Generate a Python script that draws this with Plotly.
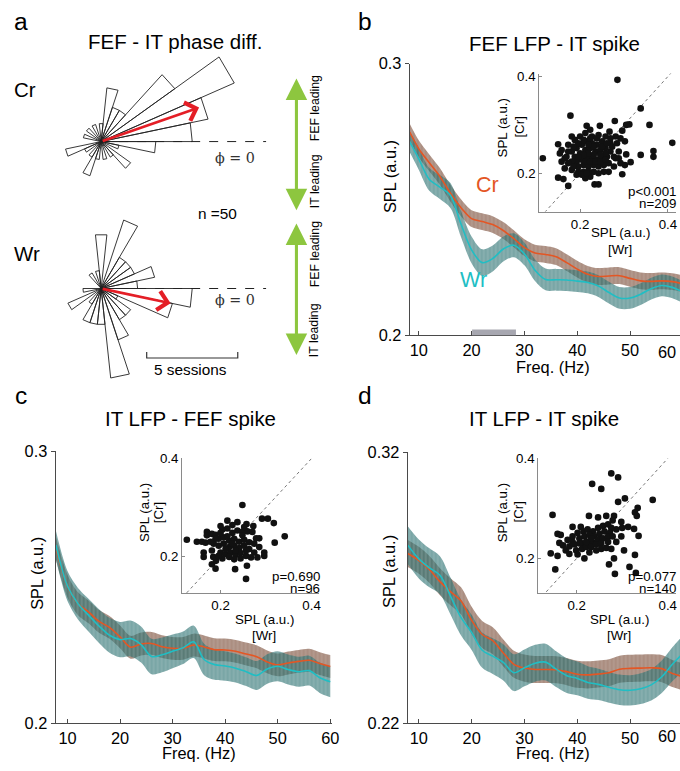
import numpy as np
import plotly.graph_objects as go

# The photographed area is about 696x774 page pixels, shown scaled into the
# 680x771 picture.  The figure fills that area (body margin removed) and
# every placement below is given in picture pixels, then mapped to paper.
S = 680 / 696
LB = (771 - 774 * S) / 2
FIGW, FIGH = 694, 772
FONT = "Liberation Sans, Arial, Helvetica, sans-serif"
SERIF = "DejaVu Serif, Liberation Serif, serif"

# ---------------- Panel a : phase-difference rose histograms ----------------
rose_bin_deg = 12
cr_rose_counts = [5, 6, 8, 5, 2, 2, 3, 1, 0, 1, 0, 1, 0, 1, 0,
                  0, 2, 1, 0, 1, 2, 1, 0, 1, 0, 1, 2, 0, 1, 3]
wr_rose_counts = [2, 3, 2, 2, 2, 4, 0, 3, 1, 0, 1, 0, 0, 0, 0,
                  1, 0, 2, 0, 1, 2, 2, 2, 5, 3, 2, 2, 1, 4, 5]
cr_mean_angle_deg, cr_mean_len = 19.4, 5.7
wr_mean_angle_deg, wr_mean_len = -12.1, 3.9
n_sessions = 50
scale_bar_sessions = 5

# ---------------- Panel b : FEF LFP - IT spike ----------------
b_freq = [8.3, 10, 12, 14, 16, 18, 20, 22, 24, 26, 28, 30, 32, 34, 36, 38, 40,
          42, 44, 46, 48, 50, 52, 54, 56, 58, 60]
b_cr = [0.2748, 0.2687, 0.2635, 0.2585, 0.2523, 0.2470, 0.2430, 0.2419, 0.2408,
        0.2386, 0.2356, 0.2323, 0.2303, 0.2298, 0.2290, 0.2268, 0.2244, 0.2225,
        0.2217, 0.2219, 0.2220, 0.2210, 0.2201, 0.2199, 0.2201, 0.2198, 0.2190]
b_wr = [0.2712, 0.2650, 0.2574, 0.2546, 0.2515, 0.2410, 0.2315, 0.2268, 0.2283,
        0.2318, 0.2332, 0.2300, 0.2240, 0.2206, 0.2205, 0.2204, 0.2200, 0.2195,
        0.2182, 0.2158, 0.2138, 0.2138, 0.2152, 0.2172, 0.2184, 0.2177, 0.2160]
b_cr_sem = [0.0031] * len(b_freq)
b_wr_sem = [0.0038, 0.0040, 0.0042, 0.0044, 0.0046, 0.0048, 0.0049, 0.0049, 0.0048,
            0.0046, 0.0044, 0.0042, 0.0040, 0.0040, 0.0040, 0.0040, 0.0040, 0.0040,
            0.0040, 0.0040, 0.0040, 0.0040, 0.0040, 0.0040, 0.0040, 0.0040, 0.0040]
b_sig_window = [20.1, 28.4]
b_inset_points = [
    (0.285, 0.393), (0.178, 0.319), (0.338, 0.334), (0.358, 0.300), (0.410, 0.263),
    (0.367, 0.246), (0.367, 0.234), (0.338, 0.238), (0.315, 0.223), (0.115, 0.231),
    (0.173, 0.174), (0.150, 0.191), (0.162, 0.188), (0.233, 0.177), (0.242, 0.177),
    (0.296, 0.198), (0.302, 0.217), (0.305, 0.239), (0.302, 0.266), (0.312, 0.301),
    (0.279, 0.308), (0.245, 0.298), (0.215, 0.298), (0.223, 0.290), (0.181, 0.276),
    (0.150, 0.260), (0.154, 0.241), (0.305, 0.300), (0.296, 0.288), (0.267, 0.286),
    (0.258, 0.276), (0.269, 0.262), (0.288, 0.245), (0.292, 0.221), (0.281, 0.231),
    (0.265, 0.203), (0.223, 0.193), (0.212, 0.190), (0.196, 0.203), (0.181, 0.207),
    (0.165, 0.210), (0.158, 0.224), (0.169, 0.234), (0.158, 0.248), (0.173, 0.259),
    (0.188, 0.269), (0.200, 0.276), (0.212, 0.283), (0.227, 0.276), (0.242, 0.279),
    (0.250, 0.266), (0.238, 0.259), (0.227, 0.262), (0.215, 0.266), (0.204, 0.259),
    (0.192, 0.252), (0.181, 0.245), (0.188, 0.234), (0.200, 0.241), (0.212, 0.248),
    (0.223, 0.252), (0.235, 0.245), (0.246, 0.248), (0.258, 0.252), (0.269, 0.245),
    (0.261, 0.234), (0.250, 0.231), (0.238, 0.228), (0.227, 0.231), (0.215, 0.234),
    (0.204, 0.228), (0.192, 0.224), (0.181, 0.224), (0.196, 0.214), (0.208, 0.217),
    (0.219, 0.214), (0.231, 0.217), (0.242, 0.214), (0.254, 0.217), (0.265, 0.221),
    (0.277, 0.214), (0.254, 0.203), (0.242, 0.200), (0.231, 0.203), (0.219, 0.203),
    (0.208, 0.203), (0.273, 0.255), (0.284, 0.262), (0.292, 0.272), (0.281, 0.276),
    (0.269, 0.272), (0.238, 0.272), (0.223, 0.272), (0.208, 0.269), (0.196, 0.262),
    (0.185, 0.255), (0.173, 0.245), (0.165, 0.231), (0.173, 0.221), (0.185, 0.214),
    (0.192, 0.197), (0.204, 0.197), (0.215, 0.200), (0.277, 0.234), (0.288, 0.231),
    (0.258, 0.241), (0.246, 0.238), (0.231, 0.238), (0.219, 0.241), (0.208, 0.238),
    (0.196, 0.234), (0.212, 0.224), (0.223, 0.224), (0.235, 0.224), (0.246, 0.224),
    (0.258, 0.228), (0.231, 0.255), (0.219, 0.259), (0.250, 0.255), (0.261, 0.262)]
b_stats = ["p<0.001", "n=209"]

# ---------------- Panel c : IT LFP - FEF spike ----------------
c_freq = [7.8, 10, 12, 14, 16, 18, 20, 22, 24, 26, 28, 30, 32, 34, 36, 38, 40,
          42, 44, 46, 48, 50, 52, 54, 56, 58, 60]
c_cr = [0.2644, 0.2505, 0.2440, 0.2410, 0.2375, 0.2353, 0.2318, 0.2280, 0.2292,
        0.2294, 0.2282, 0.2276, 0.2276, 0.2288, 0.2281, 0.2271, 0.2270, 0.2265,
        0.2255, 0.2245, 0.2226, 0.2215, 0.2222, 0.2228, 0.2232, 0.2220, 0.2209]
c_wr = [0.2656, 0.2505, 0.2440, 0.2398, 0.2358, 0.2324, 0.2308, 0.2312, 0.2290,
        0.2246, 0.2252, 0.2265, 0.2278, 0.2300, 0.2235, 0.2216, 0.2211, 0.2203,
        0.2190, 0.2176, 0.2200, 0.2210, 0.2198, 0.2190, 0.2194, 0.2168, 0.2153]
c_cr_sem = [0.0042] * len(c_freq)
c_wr_sem = [0.0052, 0.0055, 0.0058, 0.0060, 0.0062, 0.0064, 0.0065, 0.0066, 0.0066,
            0.0065, 0.0064, 0.0062, 0.0060, 0.0060, 0.0058, 0.0056, 0.0054, 0.0053,
            0.0053, 0.0053, 0.0054, 0.0055, 0.0055, 0.0055, 0.0055, 0.0056, 0.0057]
c_inset_points = [
    (0.248, 0.305), (0.291, 0.277), (0.304, 0.277), (0.317, 0.268), (0.341, 0.241),
    (0.319, 0.228), (0.126, 0.234), (0.148, 0.230), (0.159, 0.230), (0.167, 0.228),
    (0.163, 0.208), (0.163, 0.199), (0.181, 0.184), (0.189, 0.175), (0.184, 0.199),
    (0.190, 0.191), (0.232, 0.174), (0.258, 0.181), (0.256, 0.154), (0.296, 0.201),
    (0.296, 0.208), (0.285, 0.219), (0.285, 0.237), (0.272, 0.262), (0.257, 0.266),
    (0.237, 0.270), (0.215, 0.273), (0.200, 0.262), (0.170, 0.250), (0.170, 0.243),
    (0.181, 0.246), (0.189, 0.244), (0.204, 0.255), (0.215, 0.257), (0.226, 0.248),
    (0.237, 0.253), (0.248, 0.250), (0.259, 0.251), (0.270, 0.250), (0.196, 0.236),
    (0.207, 0.239), (0.219, 0.232), (0.230, 0.236), (0.241, 0.230), (0.252, 0.234),
    (0.263, 0.229), (0.274, 0.226), (0.196, 0.222), (0.207, 0.226), (0.219, 0.219),
    (0.230, 0.222), (0.241, 0.217), (0.252, 0.222), (0.263, 0.215), (0.274, 0.208),
    (0.200, 0.208), (0.211, 0.205), (0.222, 0.208), (0.233, 0.203), (0.244, 0.207),
    (0.256, 0.201), (0.267, 0.198), (0.204, 0.196), (0.219, 0.199), (0.230, 0.194),
    (0.244, 0.196), (0.185, 0.226), (0.181, 0.212), (0.189, 0.236), (0.215, 0.241),
    (0.248, 0.243), (0.226, 0.264), (0.252, 0.260), (0.278, 0.237), (0.211, 0.215),
    (0.233, 0.212), (0.226, 0.226), (0.256, 0.212), (0.200, 0.248), (0.178, 0.230),
    (0.281, 0.198), (0.196, 0.201)]
c_stats = ["p=0.690", "n=96"]

# ---------------- Panel d : IT LFP - IT spike ----------------
d_freq = [7.9, 10, 12, 14, 16, 18, 20, 22, 24, 26, 28, 30, 32, 34, 36, 38, 40,
          42, 44, 46, 48, 50, 52, 54, 56, 58, 60]
d_cr = [0.2827, 0.2802, 0.2768, 0.2723, 0.2686, 0.2652, 0.2580, 0.2528, 0.2505,
        0.2460, 0.2418, 0.2404, 0.2399, 0.2399, 0.2398, 0.2391, 0.2381, 0.2379,
        0.2382, 0.2387, 0.2400, 0.2403, 0.2404, 0.2405, 0.2402, 0.2384, 0.2372]
d_wr = [0.2858, 0.2807, 0.2774, 0.2747, 0.2670, 0.2590, 0.2536, 0.2470, 0.2448,
        0.2425, 0.2387, 0.2405, 0.2422, 0.2426, 0.2400, 0.2376, 0.2366, 0.2351,
        0.2344, 0.2333, 0.2324, 0.2322, 0.2328, 0.2342, 0.2372, 0.2418, 0.2458]
d_cr_sem = [0.0050] * len(d_freq)
d_wr_sem = [0.0070, 0.0072, 0.0072, 0.0070, 0.0068, 0.0066, 0.0065, 0.0065, 0.0066,
            0.0067, 0.0068, 0.0068, 0.0068, 0.0068, 0.0066, 0.0064, 0.0062, 0.0060,
            0.0058, 0.0057, 0.0056, 0.0056, 0.0057, 0.0058, 0.0060, 0.0063, 0.0066]
d_inset_points = [
    (0.276, 0.370), (0.291, 0.362), (0.234, 0.349), (0.254, 0.339), (0.367, 0.317),
    (0.306, 0.320), (0.291, 0.313), (0.334, 0.301), (0.328, 0.292), (0.332, 0.285),
    (0.147, 0.287), (0.336, 0.245), (0.326, 0.259), (0.313, 0.263), (0.328, 0.207),
    (0.304, 0.216), (0.282, 0.200), (0.271, 0.188), (0.284, 0.169), (0.316, 0.183),
    (0.330, 0.171), (0.153, 0.178), (0.143, 0.210), (0.158, 0.205), (0.217, 0.200),
    (0.202, 0.208), (0.158, 0.249), (0.165, 0.247), (0.162, 0.231), (0.170, 0.226),
    (0.176, 0.216), (0.184, 0.224), (0.191, 0.233), (0.191, 0.263), (0.209, 0.263),
    (0.227, 0.285), (0.247, 0.282), (0.265, 0.285), (0.282, 0.285), (0.279, 0.276),
    (0.298, 0.273), (0.300, 0.261), (0.287, 0.258), (0.202, 0.251), (0.215, 0.254),
    (0.224, 0.258), (0.236, 0.254), (0.247, 0.261), (0.258, 0.265), (0.269, 0.268),
    (0.276, 0.261), (0.206, 0.240), (0.217, 0.244), (0.228, 0.247), (0.239, 0.244),
    (0.250, 0.249), (0.261, 0.254), (0.273, 0.251), (0.191, 0.244), (0.180, 0.237),
    (0.195, 0.228), (0.213, 0.230), (0.224, 0.233), (0.236, 0.231), (0.247, 0.237),
    (0.258, 0.240), (0.269, 0.244), (0.279, 0.244), (0.212, 0.219), (0.221, 0.223),
    (0.232, 0.223), (0.243, 0.228), (0.254, 0.230), (0.254, 0.219), (0.243, 0.216),
    (0.228, 0.212), (0.184, 0.209), (0.199, 0.216), (0.269, 0.233), (0.287, 0.233),
    (0.221, 0.233), (0.206, 0.230), (0.232, 0.240), (0.298, 0.244), (0.265, 0.221),
    (0.276, 0.219)]
d_stats = ["p=0.077", "n=140"]

freq_ticks = [10, 20, 30, 40, 50, 60]
freq_labels = ["10", "20", "30", "40", "50", "60"]

# ---------------- styling ----------------
CR_LINE = "rgb(228,86,36)"
WR_LINE = "rgb(32,190,196)"
CR_FILL = "rgba(120,72,52,0.62)"
WR_FILL = "rgba(40,112,112,0.62)"
GREEN = "#8DC63F"


def F(v):
    """picture size -> page size"""
    return v / S


def px(x):
    return (x / S) / FIGW


def py(y):
    return 1 - ((y - LB) / S) / FIGH


fig = go.Figure()

# ---- panel a: rose petals on an equal-scale cartesian axis (1 session = 18 px)
CR_CY, WR_CY = 0.0, -147 / 18


def rose_xy(counts, cy):
    xs, ys = [], []
    for i, c in enumerate(counts):
        if c <= 0:
            continue
        t1 = np.deg2rad(i * rose_bin_deg)
        t2 = np.deg2rad((i + 1) * rose_bin_deg)
        xs += [0, c * np.cos(t1), c * np.cos(t2), 0, None]
        ys += [cy, cy + c * np.sin(t1), cy + c * np.sin(t2), cy, None]
    return xs, ys


for counts, cy in [(cr_rose_counts, CR_CY), (wr_rose_counts, WR_CY)]:
    xs, ys = rose_xy(counts, cy)
    fig.add_trace(go.Scatter(x=xs, y=ys, mode="lines", xaxis="x", yaxis="y",
                             line=dict(color="#222222", width=0.9),
                             showlegend=False, hoverinfo="skip"))


# ---- line panels with SEM bands
def add_panel(freq, cr, cr_sem, wr, wr_sem, xa, ya):
    for y, sem, fill in [(cr, cr_sem, CR_FILL), (wr, wr_sem, WR_FILL)]:
        lo = [a - s for a, s in zip(y, sem)]
        hi = [a + s for a, s in zip(y, sem)]
        fig.add_trace(go.Scatter(x=freq, y=lo, xaxis=xa, yaxis=ya, mode="lines",
                                 line=dict(width=0, shape="spline", smoothing=0.9),
                                 showlegend=False, hoverinfo="skip"))
        fig.add_trace(go.Scatter(x=freq, y=hi, xaxis=xa, yaxis=ya, mode="lines",
                                 line=dict(width=0, shape="spline", smoothing=0.9),
                                 fill="tonexty", fillcolor=fill,
                                 fillpattern=dict(shape="|", size=4, solidity=0.2,
                                                  bgcolor=fill,
                                                  fgcolor="rgba(255,255,255,0.45)"),
                                 showlegend=False, hoverinfo="skip"))
    for y, col in [(cr, CR_LINE), (wr, WR_LINE)]:
        fig.add_trace(go.Scatter(x=freq, y=y, xaxis=xa, yaxis=ya, mode="lines",
                                 line=dict(color=col, width=1.6, shape="spline", smoothing=0.9),
                                 showlegend=False, hoverinfo="skip"))


add_panel(b_freq, b_cr, b_cr_sem, b_wr, b_wr_sem, "x2", "y2")
add_panel(c_freq, c_cr, c_cr_sem, c_wr, c_wr_sem, "x4", "y4")
add_panel(d_freq, d_cr, d_cr_sem, d_wr, d_wr_sem, "x6", "y6")


def add_inset(points, xa, ya):
    fig.add_trace(go.Scatter(x=[0, 0.5], y=[0, 0.5], xaxis=xa, yaxis=ya, mode="lines",
                             line=dict(color="#777777", width=1, dash="dot"),
                             showlegend=False, hoverinfo="skip"))
    fig.add_trace(go.Scatter(x=[p[0] for p in points], y=[p[1] for p in points],
                             xaxis=xa, yaxis=ya, mode="markers",
                             marker=dict(color="#111111", size=F(6.5), line=dict(width=0)),
                             showlegend=False, hoverinfo="skip"))


add_inset(b_inset_points, "x3", "y3")
add_inset(c_inset_points, "x5", "y5")
add_inset(d_inset_points, "x7", "y7")

# ---------------- axes ----------------
axis_base = dict(showline=True, linewidth=1, tickwidth=1, showgrid=False, zeroline=False)
main_x = dict(axis_base, linecolor="#4a4a4a", tickcolor="#4a4a4a", ticks="inside", ticklen=4,
              tickfont=dict(size=F(16), color="black", family=FONT))
main_y = dict(axis_base, linecolor="#4a4a4a", tickcolor="#4a4a4a", ticks="outside", ticklen=4,
              tickfont=dict(size=F(16), color="black", family=FONT))
inset_ax = dict(axis_base, linecolor="#8a8a8a", tickcolor="#8a8a8a", ticks="inside", ticklen=3,
                tickfont=dict(size=F(13), color="black", family=FONT))
# the last "60" label of b and d sits on the picture edge; it is drawn as a right-aligned note
edge_labels = freq_labels[:-1] + [""]

fig.update_layout(
    width=FIGW, height=FIGH, autosize=False,
    margin=dict(l=0, r=0, t=0, b=0),
    paper_bgcolor="white", plot_bgcolor="rgba(0,0,0,0)",
    showlegend=False,
    xaxis=dict(domain=[px(0), px(300)], range=[-100 / 18, 200 / 18], visible=False, anchor="y"),
    yaxis=dict(domain=[py(380), py(40)], range=[-240 / 18, 100 / 18], visible=False, anchor="x"),
    xaxis2=dict(main_x, domain=[px(405), px(675)], range=[8.3, 60], tickvals=freq_ticks,
                ticktext=edge_labels, anchor="y2"),
    yaxis2=dict(main_y, domain=[py(334), py(62)], range=[0.2, 0.3], tickvals=[0.2, 0.3],
                ticktext=["0.2", "0.3"], anchor="x2"),
    xaxis3=dict(inset_ax, domain=[px(533), px(668)], range=[0.107, 0.418], tickvals=[0.2, 0.4],
                ticktext=["0.2", "0.4"], anchor="y3"),
    yaxis3=dict(inset_ax, domain=[py(210), py(72)], range=[0.121, 0.406], tickvals=[0.2, 0.4],
                ticktext=["0.2", "0.4"], anchor="x3"),
    xaxis4=dict(main_x, domain=[px(55), px(328)], range=[7.75, 60.3], tickvals=freq_ticks,
                ticktext=freq_labels, anchor="y4"),
    yaxis4=dict(main_y, domain=[py(722), py(450)], range=[0.2, 0.3], tickvals=[0.2, 0.3],
                ticktext=["0.2", "0.3"], anchor="x4"),
    xaxis5=dict(inset_ax, domain=[px(180), px(315)], range=[0.1156, 0.4156], tickvals=[0.2, 0.4],
                ticktext=["0.2", "0.4"], anchor="y5"),
    yaxis5=dict(inset_ax, domain=[py(592), py(457)], range=[0.1245, 0.4], tickvals=[0.2, 0.4],
                ticktext=["0.2", "0.4"], anchor="x5"),
    xaxis6=dict(main_x, domain=[px(403), px(675)], range=[7.9, 60], tickvals=freq_ticks,
                ticktext=edge_labels, anchor="y6"),
    yaxis6=dict(main_y, domain=[py(722), py(451)], range=[0.22, 0.32], tickvals=[0.22, 0.32],
                ticktext=["0.22", "0.32"], anchor="x6"),
    xaxis7=dict(inset_ax, domain=[px(532), px(668)], range=[0.1156, 0.4178], tickvals=[0.2, 0.4],
                ticktext=["0.2", "0.4"], anchor="y7"),
    yaxis7=dict(inset_ax, domain=[py(592), py(457)], range=[0.13, 0.4], tickvals=[0.2, 0.4],
                ticktext=["0.2", "0.4"], anchor="x7"),
)

# ---------------- shapes ----------------
shapes = []
for cy in (CR_CY, WR_CY):
    shapes.append(dict(type="line", xref="x", yref="y", x0=0, x1=163 / 18, y0=cy, y1=cy,
                       line=dict(color="#222222", width=1, dash="dash")))
sb_y = -(356.5 - 140) / 18
sb_tick = 6 / 18
sb_x0 = 45 / 18
shapes.append(dict(type="path", xref="x", yref="y",
                   path=f"M {sb_x0},{sb_y + sb_tick} L {sb_x0},{sb_y} "
                        f"L {sb_x0 + scale_bar_sessions},{sb_y} L {sb_x0 + scale_bar_sessions},{sb_y + sb_tick}",
                   line=dict(color="#333333", width=1.2)))
shapes.append(dict(type="rect", xref="x2", yref="y2", x0=b_sig_window[0], x1=b_sig_window[1],
                   y0=0.2, y1=0.2022, fillcolor="#A7A7B0", line=dict(width=0), layer="above"))
fig.update_layout(shapes=shapes)

# ---------------- annotations ----------------
ann = []


def txt(x, y, s, size, color="black", angle=0, xanchor="center", family=FONT):
    ann.append(dict(x=px(x), y=py(y), xref="paper", yref="paper", text=s, showarrow=False,
                    font=dict(size=F(size), color=color, family=family), textangle=angle,
                    xanchor=xanchor, yanchor="middle"))


# panel letters and titles
txt(21, 20, "a", 24)
txt(361, 20, "b", 24)
txt(21, 394, "c", 24)
txt(361, 394, "d", 24)
txt(173, 40, "FEF - IT phase diff.", 20)
txt(548, 42, "FEF LFP - IT spike", 20)
txt(188, 417, "IT LFP - FEF spike", 20)
txt(538, 417, "IT LFP - IT spike", 20)

# panel a labels
txt(25, 88, "Cr", 20)
txt(27, 252, "Wr", 20)
txt(215, 212, f"n ={n_sessions}", 15)
txt(232, 156, "ϕ = 0", 14, color="#333333", family=SERIF)
txt(232, 298, "ϕ = 0", 14, color="#333333", family=SERIF)
txt(188, 368, f"{scale_bar_sessions} sessions", 15)
txt(311, 107, "FEF leading", 12, angle=-90)
txt(311, 180, "IT leading", 12, angle=-90)
txt(311, 253, "FEF leading", 12, angle=-90)
txt(311, 329, "IT leading", 12, angle=-90)

# green double arrows
for ytop, ybot in [(77, 207), (222, 352)]:
    ann.append(dict(x=px(293), y=py(ytop), xref="paper", yref="paper", ax=0, ay=F(ybot - ytop),
                    text="", showarrow=True, arrowside="end+start", arrowhead=2,
                    startarrowhead=2, arrowsize=1.4, startarrowsize=1.4, arrowwidth=F(3),
                    arrowcolor=GREEN))

# red mean-phase arrows
for ang, ln, cy in [(cr_mean_angle_deg, cr_mean_len, CR_CY), (wr_mean_angle_deg, wr_mean_len, WR_CY)]:
    t = np.deg2rad(ang)
    ann.append(dict(x=ln * np.cos(t), y=cy + ln * np.sin(t), xref="x", yref="y",
                    ax=0, ay=cy, axref="x", ayref="y", text="", showarrow=True,
                    arrowhead=4, arrowsize=1.4, arrowwidth=F(2.6), arrowcolor="#E41E26"))

# Cr / Wr labels in b
txt(482, 183, "Cr", 21, color=CR_LINE)
txt(468, 278, "Wr", 21, color=WR_LINE)

# right-edge "60" tick labels of b and d
txt(670, 351, freq_labels[-1], 16, xanchor="right")
txt(670, 735, freq_labels[-1], 16, xanchor="right")

# main axis labels
for x, y in [(385, 175), (37, 572), (385, 570)]:
    txt(x, y, "SPL (a.u.)", 16, angle=-90)
for x, y in [(547, 366), (197, 752), (547, 752)]:
    txt(x, y, "Freq. (Hz)", 16)

# inset labels
for (yx1, yx2, yy), (xx, xy1, xy2) in [((497, 514, 126), (613, 231, 248)),
                                       ((143, 157, 511), (261, 618, 634)),
                                       ((497, 512, 511), (612, 618, 634))]:
    txt(yx1, yy, "SPL (a.u.)", 13, angle=-90)
    txt(yx2, yy, "[Cr]", 13, angle=-90)
    txt(xx, xy1, "SPL (a.u.)", 13)
    txt(xx, xy2, "[Wr]", 13)

for xr, y1, stats in [(670, 190, b_stats), (318, 575, c_stats), (670, 575, d_stats)]:
    txt(xr, y1, stats[0], 13, xanchor="right")
    txt(xr, y1 + 12, stats[1], 13, xanchor="right")

fig.update_layout(annotations=ann)

fig.write_html("out.html", config={"displayModeBar": False},
               post_script="document.body.style.margin='0px';"
                           "document.body.style.padding='0px';"
                           "document.documentElement.style.overflow='hidden';")
